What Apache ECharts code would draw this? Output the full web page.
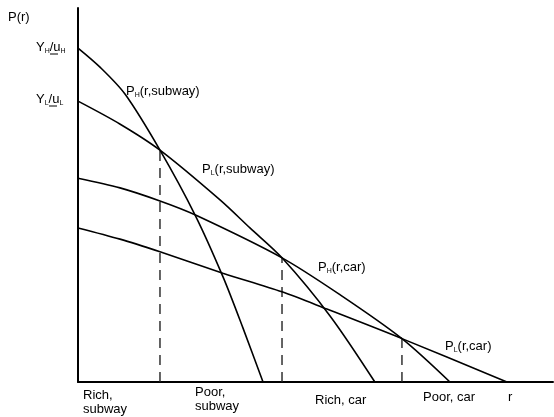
<!DOCTYPE html>
<html>
<head>
<meta charset="utf-8">
<script src="https://cdn.jsdelivr.net/npm/echarts@6/dist/echarts.min.js"></script>
<style>
html,body{margin:0;padding:0;background:#fff;}
#chart{width:554px;height:417px;}
</style>
</head>
<body>
<div id="chart"></div>
<script>
// Values (r on x axis, P(r) on y axis, arbitrary units 0-100)
const pHSubwayR = [0, 4.63, 9.89, 17.26, 24.63, 30.53, 34.74, 38.95];
const pHSubwayP = [89.3, 84.2, 77.0, 62.0, 44.7, 28.1, 14.4, 0];
const pLSubwayR = [0, 8.8, 17.26, 29.9, 36.2, 42.95, 53.1, 62.5];
const pLSubwayP = [75.1, 69.0, 62.0, 48.7, 41.2, 33.2, 17.6, 0];
const pHCarR = [0, 8.84, 17.26, 24.63, 42.95, 55.2, 68.2, 78.3];
const pHCarP = [54.5, 51.9, 48.4, 44.7, 33.2, 23.3, 11.6, 0];
const pLCarR = [0, 8.84, 17.26, 30.5, 42.95, 52.4, 68.2, 90.3];
const pLCarP = [41.2, 38.2, 34.8, 29.1, 24.1, 19.5, 11.6, 0];
// boundaries (dashed verticals) at curve intersections
const boundaryR = [17.26, 42.95, 68.2];
const boundaryP = [62.0, 33.2, 11.6];
const zoneLabels = ['Rich,\nsubway', 'Poor,\nsubway', 'Rich, car', 'Poor, car', 'r'];

const zip = (a, b) => a.map((v, i) => [v, b[i]]);
const curveStyle = { color: '#000', width: 1.6 };
const curve = (name, xs, ys) => ({
  name, type: 'line', data: zip(xs, ys), smooth: 0.3, symbol: 'none',
  lineStyle: curveStyle, silent: true, z: 3
});
const dashed = boundaryR.map((r, i) => ({
  type: 'line', data: [[r, 0], [r, boundaryP[i]]], symbol: 'none', silent: true,
  lineStyle: { color: '#222', width: 1.4, type: [10, 7] }, z: 2
}));

const F = 'Liberation Sans, Arial, sans-serif';
const richBase = {
  a: { fontFamily: F, fontSize: 13, color: '#000', lineHeight: 15 },
  s: { fontFamily: F, fontSize: 7, color: '#000', lineHeight: 15, verticalAlign: 'bottom' }
};
const plainText = (x, y, t, lh) => ({
  type: 'text', left: x, top: y,
  style: { text: t, fontFamily: F, fontSize: 13, fill: '#000', lineHeight: lh || 14 }
});

const chart = echarts.init(document.getElementById('chart'), null, { renderer: 'canvas' });
chart.setOption({
  animation: false,
  backgroundColor: '#fff',
  grid: { left: 78, right: 1, top: 8, bottom: 35 },
  xAxis: {
    type: 'value', min: 0, max: 100,
    axisLine: { show: true, lineStyle: { color: '#000', width: 2 } },
    axisTick: { show: false }, axisLabel: { show: false }, splitLine: { show: false }
  },
  yAxis: {
    type: 'value', min: 0, max: 100,
    axisLine: { show: true, lineStyle: { color: '#000', width: 2 } },
    axisTick: { show: false }, axisLabel: { show: false }, splitLine: { show: false }
  },
  series: [
    curve('P_H(r,subway)', pHSubwayR, pHSubwayP),
    curve('P_L(r,subway)', pLSubwayR, pLSubwayP),
    curve('P_H(r,car)', pHCarR, pHCarP),
    curve('P_L(r,car)', pLCarR, pLCarP),
    ...dashed
  ],
  graphic: [
    plainText(8, 10, 'P(r)'),
    { type: 'text', left: 36, top: 41, style: { text: '{a|Y}{s|H}{a|/u}{s|H}', rich: richBase } },
    { type: 'line', shape: { x1: 50, y1: 54, x2: 58, y2: 54 }, style: { stroke: '#000', lineWidth: 1 } },
    { type: 'text', left: 36, top: 93, style: { text: '{a|Y}{s|L}{a|/u}{s|L}', rich: richBase } },
    { type: 'line', shape: { x1: 49, y1: 106, x2: 57, y2: 106 }, style: { stroke: '#000', lineWidth: 1 } },
    { type: 'text', left: 126, top: 85, style: { text: '{a|P}{s|H}{a|(r,subway)}', rich: richBase } },
    { type: 'text', left: 202, top: 163, style: { text: '{a|P}{s|L}{a|(r,subway)}', rich: richBase } },
    { type: 'text', left: 318, top: 261, style: { text: '{a|P}{s|H}{a|(r,car)}', rich: richBase } },
    { type: 'text', left: 445, top: 340, style: { text: '{a|P}{s|L}{a|(r,car)}', rich: richBase } },
    plainText(83, 388, zoneLabels[0]),
    plainText(195, 385, zoneLabels[1]),
    plainText(315, 393, zoneLabels[2]),
    plainText(423, 390, zoneLabels[3]),
    plainText(508, 390, zoneLabels[4])
  ]
});
</script>
</body>
</html>
